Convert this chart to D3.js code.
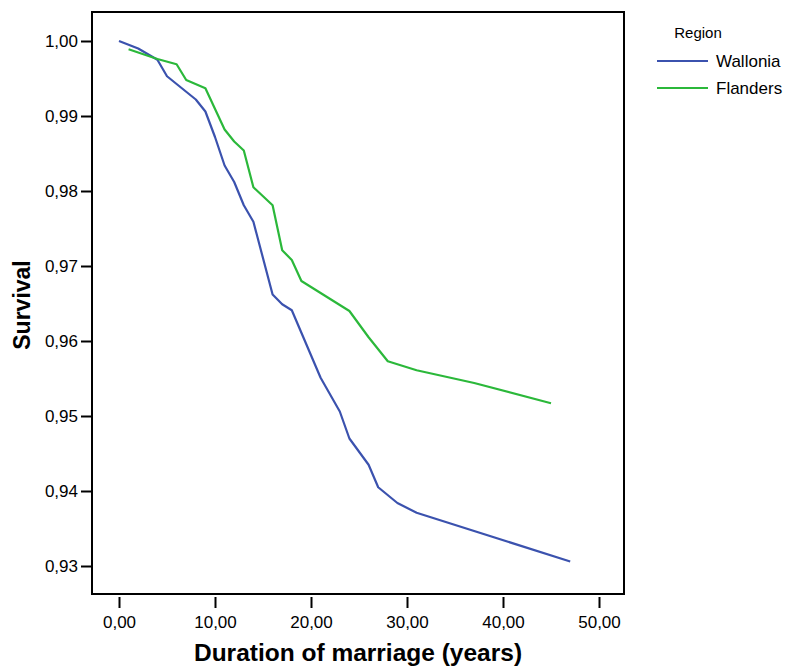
<!DOCTYPE html>
<html>
<head>
<meta charset="utf-8">
<script src="https://cdn.jsdelivr.net/npm/d3@7"></script>
<style>
  body { margin: 0; background: #fff; }
  svg { font-family: "Liberation Sans", Arial, Helvetica, sans-serif; }
</style>
</head>
<body>
<div id="chart"></div>
<script>
// survival curves (duration in years, survival)
const wallonia = [
  [0, 1.0000], [2, 0.9990], [4, 0.9975], [5, 0.9953], [8, 0.9922],
  [9, 0.9906], [10, 0.9872], [11, 0.9834], [12, 0.9812], [13, 0.9781],
  [14, 0.9759], [16, 0.9662], [17, 0.9649], [18, 0.9641], [21, 0.9551],
  [23, 0.9506], [24, 0.9470], [26, 0.9435], [27, 0.9405], [29, 0.9384],
  [31, 0.9371], [47, 0.9306]
];
const flanders = [
  [1, 0.9989], [4, 0.9976], [6, 0.9969], [7, 0.9948], [9, 0.9937],
  [11, 0.9882], [12, 0.9866], [13, 0.9854], [14, 0.9805], [16, 0.9781],
  [17, 0.9721], [18, 0.9708], [19, 0.9680], [24, 0.9640], [26, 0.9605],
  [28, 0.9573], [31, 0.9561], [37, 0.9544], [45, 0.9517]
];
const seriesNames = ["Wallonia", "Flanders"];
const seriesColors = ["#3b52ae", "#2bb83a"];
const xTicks = [0, 10, 20, 30, 40, 50];
const yTicks = [0.93, 0.94, 0.95, 0.96, 0.97, 0.98, 0.99, 1.00];

const width = 787, height = 667;
// plot frame
const frame = { left: 92, top: 12, right: 624, bottom: 594 };

const svg = d3.select("#chart").append("svg")
  .attr("width", width)
  .attr("height", height);

const x = d3.scaleLinear().domain([0, 50]).range([119, 599]);
const y = d3.scaleLinear().domain([0.93, 1.00]).range([566, 41]);

const comma = v => v.toFixed(2).replace(".", ",");

// y axis, ticks attached to the frame
const yAxis = svg.append("g")
  .attr("transform", `translate(${frame.left},0)`)
  .call(d3.axisLeft(y).tickValues(yTicks).tickSize(11).tickPadding(3).tickFormat(comma));
yAxis.select(".domain").remove();
yAxis.selectAll("line").attr("stroke", "#000").attr("stroke-width", 2);
yAxis.selectAll("text").attr("font-size", 17).attr("fill", "#000")
  .attr("font-family", "Liberation Sans, Arial, sans-serif");

// x axis, ticks sit below the frame with a small gap
const xAxis = svg.append("g")
  .attr("transform", `translate(0,${frame.bottom + 3})`)
  .call(d3.axisBottom(x).tickValues(xTicks).tickSize(11).tickPadding(8).tickFormat(comma));
xAxis.select(".domain").remove();
xAxis.selectAll("line").attr("stroke", "#000").attr("stroke-width", 2);
xAxis.selectAll("text").attr("font-size", 17).attr("fill", "#000")
  .attr("font-family", "Liberation Sans, Arial, sans-serif");

// frame
svg.append("rect")
  .attr("x", frame.left)
  .attr("y", frame.top)
  .attr("width", frame.right - frame.left)
  .attr("height", frame.bottom - frame.top)
  .attr("fill", "none")
  .attr("stroke", "#000")
  .attr("stroke-width", 2);

// lines
const line = d3.line().x(d => x(d[0])).y(d => y(d[1]));
[wallonia, flanders].forEach((data, i) => {
  svg.append("path")
    .datum(data)
    .attr("d", line)
    .attr("fill", "none")
    .attr("stroke", seriesColors[i])
    .attr("stroke-width", 2.2)
    .attr("stroke-linejoin", "round");
});

// axis titles
svg.append("text")
  .attr("x", 358)
  .attr("y", 661)
  .attr("text-anchor", "middle")
  .attr("font-size", 24.5)
  .attr("font-weight", "bold")
  .text("Duration of marriage (years)");

svg.append("text")
  .attr("transform", `translate(30,305) rotate(-90)`)
  .attr("text-anchor", "middle")
  .attr("font-size", 23)
  .attr("font-weight", "bold")
  .text("Survival");

// legend
const legend = svg.append("g");
legend.append("text")
  .attr("x", 698)
  .attr("y", 38)
  .attr("text-anchor", "middle")
  .attr("font-size", 15)
  .text("Region");
seriesNames.forEach((name, i) => {
  const ly = 61 + i * 27;
  legend.append("line")
    .attr("x1", 657).attr("x2", 708)
    .attr("y1", ly).attr("y2", ly)
    .attr("stroke", seriesColors[i])
    .attr("stroke-width", 2);
  legend.append("text")
    .attr("x", 716)
    .attr("y", ly + 6)
    .attr("font-size", 17)
    .text(name);
});
</script>
</body>
</html>
